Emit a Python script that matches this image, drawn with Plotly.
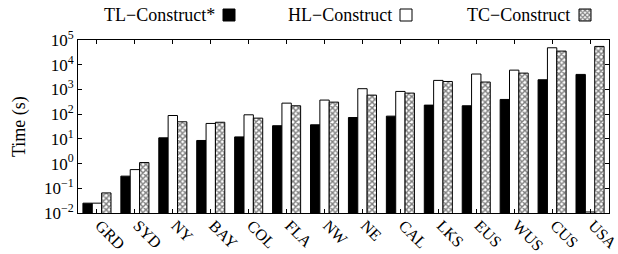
import plotly.graph_objects as go

categories = ["GRD", "SYD", "NY", "BAY", "COL", "FLA", "NW", "NE", "CAL", "LKS", "EUS", "WUS", "CUS", "USA"]
tl_construct = [0.025, 0.31, 11, 8.6, 12, 34, 37, 73, 83, 232, 218, 393, 2460, 4050]
hl_construct = [0.025, 0.57, 88, 42, 94, 279, 371, 1070, 830, 2320, 4200, 6040, 48500, 0.011]
tc_construct = [0.065, 1.1, 49, 47, 69, 218, 306, 589, 710, 2100, 1990, 4580, 35600, 55000]
series_names = ["TL\u2212Construct*", "HL\u2212Construct", "TC\u2212Construct"]
y_title = "Time (s)"
ytick_vals = [1e-2, 1e-1, 1e0, 1e1, 1e2, 1e3, 1e4, 1e5]
ytick_text = ["10<sup>\u22122</sup>", "10<sup>\u22121</sup>", "10<sup>0</sup>", "10<sup>1</sup>",
              "10<sup>2</sup>", "10<sup>3</sup>", "10<sup>4</sup>", "10<sup>5</sup>"]

FONT = "Liberation Serif"
W, H = 618, 254
L, R, T, B = 78, 9, 40, 41
pw, ph = W - L - R, H - T - B

def px_x(p):
    return (p - L) / pw

def px_y(p):
    return (H - B - p) / ph

fig = go.Figure()
fig.add_trace(go.Bar(x=categories, y=tl_construct, name=" ",
                     marker=dict(color="black", line=dict(color="black", width=1)),
                     legend="legend"))
fig.add_trace(go.Bar(x=categories, y=hl_construct, name=" ",
                     marker=dict(color="white", line=dict(color="black", width=1)),
                     legend="legend2"))
fig.add_trace(go.Bar(x=categories, y=tc_construct, name=" ",
                     marker=dict(color="white", line=dict(color="black", width=1),
                                 pattern=dict(shape="x", size=4, solidity=0.6,
                                              fgcolor="black", bgcolor="white")),
                     legend="legend3"))

leg_common = dict(orientation="h", font=dict(family=FONT, size=4), bgcolor="rgba(0,0,0,0)",
                  xanchor="center", yanchor="middle", itemwidth=30, tracegroupgap=0)
swatch_x = [237, 414, 593]
text_right = [217, 394, 572]
fig.update_layout(
    legend=dict(x=px_x(swatch_x[0] - 5), y=px_y(15), **leg_common),
    legend2=dict(x=px_x(swatch_x[1] - 5), y=px_y(15), **leg_common),
    legend3=dict(x=px_x(swatch_x[2] - 5), y=px_y(15), **leg_common),
)
for name, xr in zip(series_names, text_right):
    fig.add_annotation(text=name, xref="paper", yref="paper", x=px_x(xr), y=px_y(15),
                       xanchor="right", yanchor="middle", showarrow=False,
                       font=dict(family=FONT, size=18, color="black"))
fig.add_annotation(text=y_title, xref="paper", yref="paper", x=px_x(19), y=px_y(127),
                   xanchor="center", yanchor="middle", textangle=-90, showarrow=False,
                   font=dict(family=FONT, size=18, color="black"))

fig.update_layout(
    width=W, height=H,
    margin=dict(l=L, r=R, t=T, b=B, autoexpand=False),
    paper_bgcolor="white", plot_bgcolor="white",
    barmode="group", bargap=0.26, bargroupgap=0.0,
    font=dict(family=FONT, size=16, color="black"),
    showlegend=True,
)
fig.update_xaxes(showline=True, linecolor="black", linewidth=1, mirror="ticks",
                 ticks="inside", ticklen=4, tickcolor="black", tickangle=45,
                 tickfont=dict(family=FONT, size=16), showgrid=False,
                 automargin=False, ticklabelshift=3, ticklabelstandoff=-4)
fig.update_yaxes(type="log", range=[-2, 5], showline=True, linecolor="black", linewidth=1,
                 mirror="ticks", ticks="inside", ticklen=4, tickcolor="black",
                 tickvals=ytick_vals, ticktext=ytick_text, showgrid=False,
                 tickfont=dict(family=FONT, size=17), automargin=False)

fig.write_html("out.html", config={"displayModeBar": False},
               post_script="document.body.style.margin='0';document.body.style.overflow='hidden';")
